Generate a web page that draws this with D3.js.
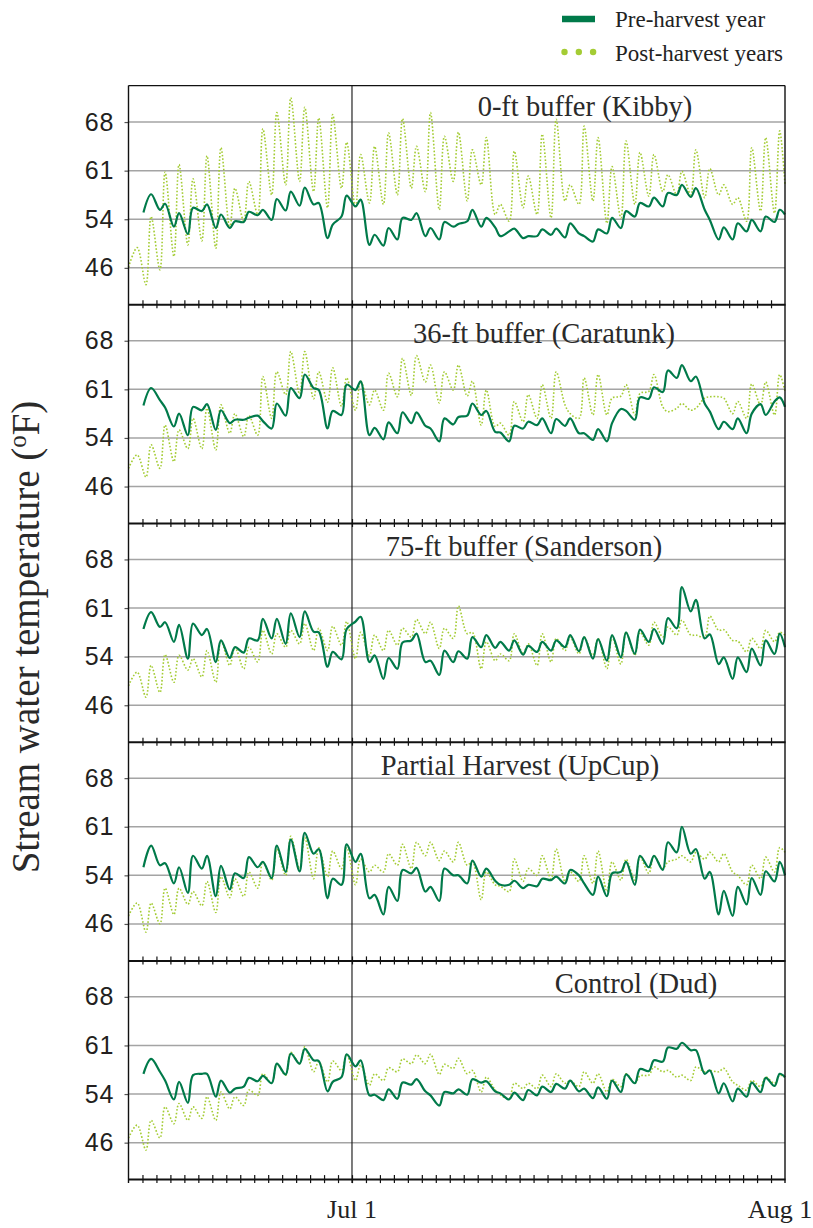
<!DOCTYPE html>
<html>
<head>
<meta charset="utf-8">
<script src="https://cdn.jsdelivr.net/npm/d3@7"></script>
<style>
    body { margin: 0; background: #fff; }
    svg { display: block; }
</style>
</head>
<body>
<div id="chart"></div>
<script>
// day 0 = Jun 15, day 47 = Aug 1
let tickDays = d3.range(1, 47);
let dateLabelDays = [16, 47];
let dateLabels = ["Jul 1", "Aug 1"];

// gridlines at 8, 12, 16, 20 °C shown in °F
let yTicks = [46.4, 53.6, 60.8, 68];

let siteNames = ["0-ft buffer (Kibby)", "36-ft buffer (Caratunk)", "75-ft buffer (Sanderson)",
    "Partial Harvest (UpCup)", "Control (Dud)"];

// post-harvest: morning / afternoon value for each day from Jun 15, last = Aug 1
let kibbyPost = [46.5,49.4, 43.9,54.0, 46.1,60.6, 48.1,61.7, 49.8,59.6, 50.4,63.0, 49.3,64.2, 52.3,58.2,
    53.3,59.2, 54.3,67.0, 57.2,69.4, 58.7,71.6, 59.2,70.2, 57.7,68.6, 55.3,69.1, 58.2,65.0,
    55.3,63.2, 56.0,64.4, 55.8,66.4, 57.2,68.5, 58.2,64.4, 57.7,69.4, 55.0,65.9, 59.2,66.5,
    56.3,63.9, 58.7,65.7, 54.3,55.8, 53.3,63.7, 55.3,60.0, 54.3,66.2, 53.8,68.4, 56.3,58.7,
    55.8,67.4, 56.3,65.7, 53.0,61.4, 53.8,65.2, 55.8,63.5, 57.0,63.2, 57.7,60.2, 57.2,60.7,
    57.2,63.9, 56.8,61.1, 57.2,58.7, 55.8,56.8, 53.3,64.2, 54.8,65.7, 54.5,66.7, 58.7];

let caratunkPost = [49.1,51.1, 47.8,52.6, 49.1,55.5, 50.1,54.8, 52.0,56.5, 52.0,58.0, 51.8,58.5, 54.3,57.2,
    53.8,56.9, 54.0,62.7, 56.5,63.4, 60.0,66.4, 60.1,66.4, 59.4,63.4, 58.9,64.0, 58.3,62.5,
    57.7,62.0, 58.5,60.7, 57.7,63.2, 59.7,65.4, 59.9,65.8, 61.9,64.4, 58.8,63.4, 60.7,64.4,
    59.8,62.0, 55.5,60.7, 55.3,55.8, 54.0,59.0, 56.0,60.0, 56.5,61.5, 56.5,63.4, 58.5,57.2,
    56.5,62.5, 57.0,63.0, 57.0,59.5, 59.8,61.5, 57.0,60.2, 60.5,63.0, 58.2,57.5, 58.0,58.7,
    57.7,58.0, 59.5,59.7, 59.7,59.5, 57.2,59.0, 56.5,61.6, 58.5,61.9, 57.0,63.0, 60.5];

let sandersonPost = [49.3,51.3, 47.6,52.3, 48.3,53.9, 49.8,53.8, 51.6,53.3, 50.6,54.5, 49.8,56.0, 52.3,55.0,
    51.8,55.0, 52.8,57.5, 54.0,57.0, 55.0,57.5, 55.5,58.5, 54.5,57.8, 54.5,58.1, 55.3,58.8,
    53.3,57.2, 53.8,56.8, 54.5,57.5, 55.3,57.8, 56.5,59.1, 57.0,58.7, 54.8,57.8, 56.3,61.1,
    57.0,57.2, 51.8,55.8, 53.0,54.0, 53.0,57.0, 54.0,55.5, 52.3,57.0, 52.8,56.3, 54.5,56.5,
    54.0,56.5, 53.8,56.3, 51.8,56.5, 52.5,57.2, 53.8,57.2, 55.3,58.7, 56.5,58.0, 56.8,59.0,
    56.8,56.8, 56.5,59.6, 57.5,57.6, 56.0,55.9, 54.3,56.3, 54.8,57.5, 55.8,57.2, 56.8];

let upcupPost = [47.6,49.5, 45.2,49.5, 46.4,51.7, 47.8,51.7, 49.3,51.2, 49.1,52.7, 48.1,53.4, 50.3,53.1,
    50.5,54.1, 51.7,55.6, 52.9,57.5, 53.6,59.4, 54.6,59.2, 53.1,57.7, 53.4,57.2, 54.6,57.7,
    52.2,56.0, 54.1,55.1, 54.1,56.8, 55.1,58.2, 54.6,58.5, 56.5,58.5, 55.8,57.2, 55.6,58.5,
    55.1,55.6, 50.0,54.1, 52.2,52.0, 51.2,56.0, 52.7,54.6, 53.6,56.5, 53.1,57.5, 52.7,54.1,
    52.7,56.5, 52.4,57.2, 51.2,55.6, 52.9,56.0, 52.9,56.3, 53.9,56.5, 54.6,55.6, 56.0,56.5,
    55.6,57.0, 56.0,57.0, 55.6,56.8, 54.1,53.6, 52.2,55.1, 53.1,56.3, 54.1,57.7, 57.0];

let dudPost = [47.1,49.0, 45.3,49.7, 47.1,51.7, 49.2,52.2, 49.7,51.7, 50.0,53.2, 49.7,53.9, 51.4,53.2,
    51.9,54.2, 53.4,56.6, 55.2,58.0, 56.4,59.8, 58.1,60.6, 56.9,58.4, 55.4,58.5, 57.1,59.5,
    55.6,57.9, 54.9,56.6, 55.6,57.5, 56.9,58.8, 58.1,59.4, 58.1,59.5, 56.5,58.0, 57.4,58.9,
    56.6,57.1, 53.9,56.1, 54.2,53.5, 52.9,55.2, 54.4,55.2, 54.4,56.4, 54.7,56.6, 55.2,55.6,
    54.7,56.9, 55.2,56.6, 53.9,55.8, 54.7,56.6, 55.2,56.3, 56.4,57.6, 56.9,57.1, 56.1,56.4,
    55.6,57.6, 56.9,57.1, 56.9,57.4, 55.4,54.9, 54.2,55.6, 54.7,56.1, 55.2,56.4, 56.1];

// pre-harvest: morning / afternoon value for each day from Jun 16, last = Aug 1
let kibbyPre = [54.6,57.3, 55.0,55.9, 52.5,54.5, 51.4,55.3, 54.8,55.8, 52.3,54.3, 52.3,53.3, 53.2,54.7,
    54.2,55.0, 53.5,56.6, 54.9,57.7, 55.6,58.3, 55.8,56.0, 50.8,52.8, 54.0,57.1, 55.5,56.5,
    49.8,51.3, 49.7,52.3, 50.6,53.8, 53.5,54.5, 51.1,52.3, 50.6,53.2, 52.5,52.9, 53.3,55.0,
    52.5,53.8, 52.4,51.1, 51.8,52.2, 50.8,51.1, 51.1,52.1, 51.3,52.2, 50.9,53.0, 51.5,51.1,
    50.3,52.1, 51.5,53.8, 52.3,54.8, 54.0,56.0, 55.5,56.8, 55.5,57.5, 57.2,58.7, 56.9,58.2,
    55.0,53.5, 50.6,52.4, 50.6,53.0, 51.8,53.5, 51.8,54.0, 53.2,55.0, 54.3];

let caratunkPre = [58.4,61.0, 59.2,58.1, 55.3,57.2, 54.0,58.2, 57.7,58.6, 54.8,57.7, 55.8,56.3, 56.3,56.6,
    56.9,56.1, 55.0,58.7, 56.9,61.0, 59.5,63.0, 61.0,60.7, 55.0,57.6, 57.0,61.5, 60.7,62.0,
    54.0,55.1, 53.4,55.9, 54.3,57.4, 55.8,57.4, 55.4,55.0, 53.1,56.5, 55.6,56.7, 56.9,58.7,
    57.0,57.6, 54.5,54.4, 53.1,55.4, 55.0,56.0, 55.5,56.5, 54.3,56.4, 55.4,56.5, 54.3,54.3,
    53.3,54.9, 53.1,55.8, 57.9,57.6, 56.3,59.6, 59.4,61.1, 60.4,63.6, 62.5,64.4, 62.0,62.7,
    58.7,57.5, 54.9,56.0, 54.9,56.5, 54.3,57.2, 58.6,57.0, 59.0,59.6, 58.2];

let sandersonPre = [57.7,60.2, 58.0,58.7, 55.8,58.3, 53.3,58.5, 56.8,57.7, 52.8,56.0, 53.4,55.0, 54.2,56.3,
    56.0,59.2, 56.3,59.2, 55.5,60.0, 56.5,60.3, 57.3,57.2, 52.1,54.3, 53.2,57.7, 58.8,59.5,
    52.8,53.8, 50.3,53.4, 51.8,55.7, 56.0,57.0, 52.8,53.0, 50.9,54.5, 52.8,54.4, 53.3,56.5,
    55.0,56.8, 54.9,55.8, 54.5,56.0, 53.9,55.2, 54.3,55.8, 54.5,56.0, 55.0,56.8, 54.4,56.5,
    53.3,56.2, 53.0,56.8, 53.5,57.2, 54.0,57.6, 55.8,57.7, 55.5,59.3, 57.8,63.9, 60.3,62.0,
    56.3,56.9, 52.5,53.5, 50.3,53.5, 51.3,54.8, 52.3,56.0, 54.0,57.0, 55.0];

let upcupPre = [54.8,58.0, 55.1,55.4, 52.4,54.8, 51.0,56.5, 54.6,56.5, 50.5,55.0, 51.5,53.9, 53.2,56.3,
    54.8,55.6, 53.2,58.0, 54.1,58.9, 54.2,59.9, 56.8,57.5, 50.2,53.1, 52.2,58.2, 55.6,56.8,
    50.2,50.7, 47.8,51.9, 49.8,54.4, 53.9,54.7, 51.2,51.9, 49.8,54.6, 53.6,53.6, 52.4,55.8,
    53.4,54.6, 52.8,52.2, 52.2,52.8, 51.7,52.2, 52.0,53.1, 52.9,53.4, 52.4,54.4, 53.6,52.4,
    50.7,53.4, 50.5,53.9, 54.1,55.6, 52.2,56.5, 54.8,56.5, 54.4,58.5, 57.0,60.8, 56.8,57.5,
    53.1,54.1, 47.8,51.3, 47.6,51.9, 49.3,53.2, 50.7,54.2, 52.7,55.6, 53.6];

let dudPre = [56.6,58.8, 56.9,55.6, 52.8,55.4, 52.3,56.4, 56.6,56.6, 53.2,55.6, 53.8,54.4, 54.7,56.0,
    55.5,56.3, 55.2,58.1, 56.5,59.6, 58.1,60.3, 58.6,58.5, 54.0,55.4, 56.1,59.5, 57.7,58.6,
    53.4,53.5, 52.7,54.3, 52.9,55.3, 55.0,55.8, 54.0,53.4, 51.9,53.9, 53.7,54.3, 53.5,55.8,
    55.3,55.5, 54.0,53.7, 52.8,53.8, 52.7,54.2, 53.4,54.7, 53.9,55.1, 54.4,55.6, 54.0,54.4,
    53.0,54.6, 52.9,55.6, 53.9,56.5, 55.2,57.3, 57.0,58.6, 58.4,60.5, 60.3,61.2, 60.1,60.1,
    56.6,57.1, 53.7,55.2, 52.5,54.4, 53.2,55.3, 53.9,56.0, 54.8,56.6, 56.1];

let preSeries = [kibbyPre, caratunkPre, sandersonPre, upcupPre, dudPre];
let postSeries = [kibbyPost, caratunkPost, sandersonPost, upcupPost, dudPost];

class StreamTempChart {
    constructor(_parentElement) {
        this.parentElement = _parentElement;
        this.initVis();
    }

    initVis() {
        let vis = this;

        vis.width = 813;
        vis.height = 1228;
        vis.panelTop = 85.6;
        vis.panelH = 218.7;
        vis.darkGreen = "#007a4a";
        vis.lightGreen = "#a4cc34";

        vis.svg = d3.select("#" + vis.parentElement).append("svg")
            .attr("width", vis.width)
            .attr("height", vis.height);

        vis.x = d3.scaleLinear().domain([0, 47]).range([128.5, 785]);
        // panel y range = 5..23 °C
        vis.y = d3.scaleLinear().domain([41, 73.4]).range([vis.panelH, 0]);

        // title offsets (center x, baseline from panel top)
        vis.titlePos = [[585, 30], [544, 39], [524, 33], [520, 33], [636, 33]];

        vis.line = d3.line()
            .x(d => vis.x(d.t))
            .y(d => vis.y(d.v))
            .curve(d3.curveCatmullRom.alpha(0.5));

        vis.drawLegend();
        vis.updateVis();
    }

    toPoints(values, firstDay, startT) {
        let last = values.length - 1;
        return values.map((v, i) => {
            let t;
            if (i === 0) t = startT;
            else if (i === last) t = 47;
            else t = firstDay + Math.floor(i / 2) + (i % 2 ? 0.62 : 0.25);
            return {t: t, v: v};
        });
    }

    drawLegend() {
        let vis = this;
        let leg = vis.svg.append("g").attr("class", "legend");

        leg.append("line")
            .attr("x1", 562).attr("x2", 595)
            .attr("y1", 19).attr("y2", 19)
            .attr("stroke", vis.darkGreen)
            .attr("stroke-width", 6.5);

        leg.selectAll(".leg-dot")
            .data([0, 1, 2])
            .enter().append("circle")
            .attr("class", "leg-dot")
            .attr("cx", d => 564.5 + d * 14.3)
            .attr("cy", 52)
            .attr("r", 3.2)
            .attr("fill", vis.lightGreen);

        leg.selectAll(".leg-text")
            .data(["Pre-harvest year", "Post-harvest years"])
            .enter().append("text")
            .attr("class", "leg-text")
            .attr("x", 615)
            .attr("y", (d, i) => i === 0 ? 27 : 61)
            .attr("font-family", "Liberation Serif, serif")
            .attr("font-size", "23px")
            .attr("fill", "#222")
            .text(d => d);
    }

    updateVis() {
        let vis = this;
        let bottom = vis.panelTop + 5 * vis.panelH;

        siteNames.forEach((name, i) => {
            let g = vis.svg.append("g")
                .attr("class", "panel")
                .attr("transform", "translate(0," + (vis.panelTop + i * vis.panelH) + ")");

            // gridlines
            g.selectAll(".grid")
                .data(yTicks)
                .enter().append("line")
                .attr("class", "grid")
                .attr("x1", vis.x(0)).attr("x2", vis.x(47))
                .attr("y1", d => vis.y(d)).attr("y2", d => vis.y(d))
                .attr("stroke", "#a4a4a4")
                .attr("stroke-width", 1.5);

            // Jul 1 line
            g.append("line")
                .attr("x1", vis.x(16)).attr("x2", vis.x(16))
                .attr("y1", 0).attr("y2", vis.panelH)
                .attr("stroke", "#111")
                .attr("stroke-width", 1.1);

            g.append("path")
                .datum(vis.toPoints(postSeries[i], 0, 0))
                .attr("fill", "none")
                .attr("stroke", vis.lightGreen)
                .attr("stroke-width", 1.6)
                .attr("stroke-dasharray", "1.6,1.9")
                .attr("d", vis.line);

            g.append("path")
                .datum(vis.toPoints(preSeries[i], 1, 1.07))
                .attr("fill", "none")
                .attr("stroke", vis.darkGreen)
                .attr("stroke-width", 2.2)
                .attr("stroke-linejoin", "round")
                .attr("d", vis.line);

            // left axis
            let yAxis = g.append("g")
                .attr("class", "axis axis-y")
                .attr("transform", "translate(" + vis.x(0) + ",0)")
                .call(d3.axisLeft(vis.y)
                    .tickValues(yTicks)
                    .tickSizeInner(4)
                    .tickSizeOuter(0)
                    .tickPadding(10)
                    .tickFormat(d3.format(".0f")));
            yAxis.select(".domain").remove();
            yAxis.selectAll("text")
                .attr("font-family", "Liberation Sans, Arial, sans-serif")
                .attr("font-size", "25px")
                .attr("letter-spacing", "1px")
                .attr("fill", "#231f20");
            yAxis.selectAll(".tick line").attr("stroke", "#555").attr("stroke-width", 1.2);

            // bottom axis with day ticks crossing the line
            let xAxis = g.append("g")
                .attr("class", "axis axis-x")
                .attr("transform", "translate(0," + vis.panelH + ")")
                .call(d3.axisBottom(vis.x)
                    .tickValues(tickDays)
                    .tickSizeInner(4)
                    .tickSizeOuter(0)
                    .tickFormat(""));
            xAxis.select(".domain").attr("stroke", "#111").attr("stroke-width", 2);
            xAxis.selectAll(".tick line")
                .attr("y1", -4)
                .attr("stroke", "#111")
                .attr("stroke-width", 1.2);

            g.append("text")
                .attr("x", vis.titlePos[i][0])
                .attr("y", vis.titlePos[i][1])
                .attr("text-anchor", "middle")
                .attr("font-family", "Liberation Serif, serif")
                .attr("font-size", "28.5px")
                .attr("fill", "#2a2a2a")
                .text(name);
        });

        // frame
        vis.svg.append("line")
            .attr("x1", vis.x(0)).attr("x2", vis.x(47))
            .attr("y1", vis.panelTop).attr("y2", vis.panelTop)
            .attr("stroke", "#111").attr("stroke-width", 1.2);
        [0, 47].forEach(d => {
            vis.svg.append("line")
                .attr("x1", vis.x(d)).attr("x2", vis.x(d))
                .attr("y1", vis.panelTop).attr("y2", bottom + 4)
                .attr("stroke", "#111").attr("stroke-width", 1.4);
        });
        vis.svg.append("line")
            .attr("x1", vis.x(16)).attr("x2", vis.x(16))
            .attr("y1", bottom).attr("y2", bottom + 4)
            .attr("stroke", "#111").attr("stroke-width", 1.2);

        // date labels
        vis.svg.selectAll(".date-label")
            .data(dateLabelDays)
            .enter().append("text")
            .attr("class", "date-label")
            .attr("x", (d, i) => vis.x(d) - (i === 1 ? 5 : 0))
            .attr("y", bottom + 39)
            .attr("text-anchor", "middle")
            .attr("font-family", "Liberation Serif, serif")
            .attr("font-size", "26px")
            .attr("fill", "#222")
            .text((d, i) => dateLabels[i]);

        // y title
        let title = vis.svg.append("text")
            .attr("transform", "translate(39,637) rotate(-90)")
            .attr("text-anchor", "middle")
            .attr("font-family", "Liberation Serif, serif")
            .attr("font-size", "39px")
            .attr("fill", "#2a2a2a");
        title.append("tspan").text("Stream water temperature (");
        title.append("tspan").attr("dy", -13).attr("font-size", "25px").text("o");
        title.append("tspan").attr("dy", 13).text("F)");
    }
}

new StreamTempChart("chart");
</script>
</body>
</html>
